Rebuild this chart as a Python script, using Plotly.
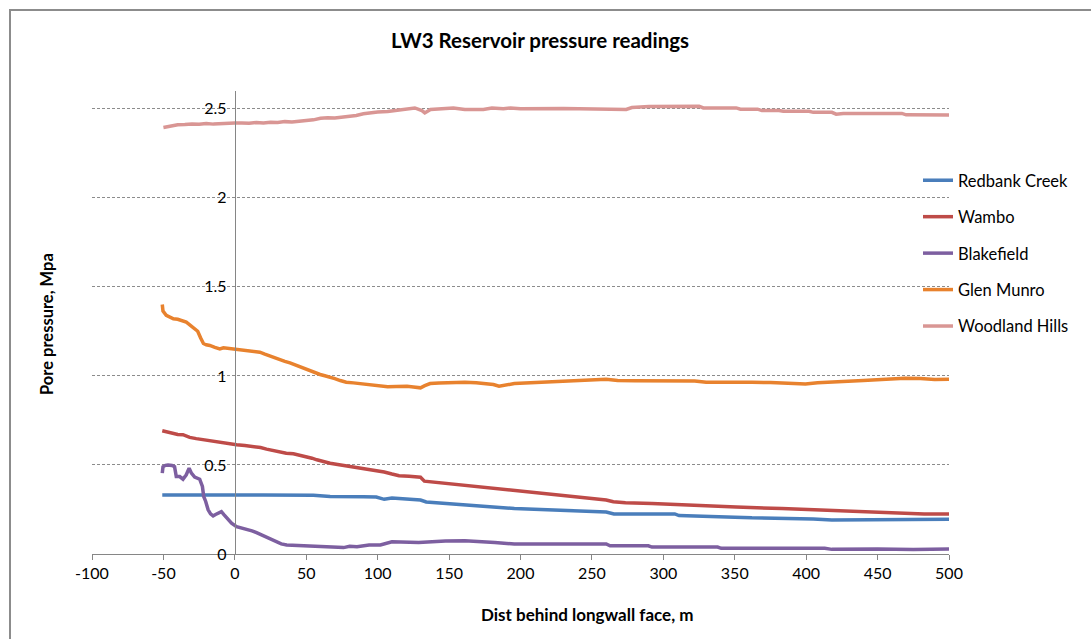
import plotly.graph_objects as go

# ---------------- data ----------------
series_names = ["Redbank Creek", "Wambo", "Blakefield", "Glen Munro", "Woodland Hills"]

rb_x = [-50.8, -40, -30, -20, -10, 0, 10, 20, 30, 40, 55, 66.7, 80, 90, 99, 104.6, 110, 120, 130, 134, 145, 158, 170,
        182, 195.7, 260, 265.4, 280, 295, 308, 311, 325, 338, 350, 362, 380, 399.5, 405, 418, 440, 460, 480, 500]
rb_y = [0.332, 0.331, 0.332, 0.331, 0.332, 0.331, 0.331, 0.332, 0.331, 0.331, 0.33, 0.323, 0.325, 0.322, 0.32, 0.307,
        0.314, 0.308, 0.303, 0.292, 0.285, 0.277, 0.271, 0.266, 0.255, 0.236, 0.225, 0.225, 0.225, 0.225, 0.216, 0.214,
        0.212, 0.207, 0.203, 0.202, 0.201, 0.197, 0.191, 0.192, 0.193, 0.194, 0.195]

wa_x = [-50.8, -47, -43.3, -40, -36.3, -31.6, -27, -22, -18, -15.2, -12, -8.2, -4, 1.2, 7, 12.9, 18, 22.2, 27, 31.6,
        36, 41, 46, 50.4, 54, 57.4, 62, 66.7, 72, 78.5, 85, 92.5, 98, 104.6, 110, 115, 122, 130, 132.7, 140, 147.5,
        154, 161, 168, 174, 183, 193, 260, 265, 273.5, 292, 308, 332, 351, 383, 418, 450, 482.6, 500]
wa_y = [0.692, 0.684, 0.674, 0.671, 0.67, 0.655, 0.648, 0.642, 0.636, 0.632, 0.627, 0.623, 0.617, 0.613, 0.609, 0.604,
        0.598, 0.589, 0.58, 0.57, 0.566, 0.563, 0.555, 0.548, 0.538, 0.529, 0.519, 0.51, 0.503, 0.495, 0.487, 0.477,
        0.47, 0.46, 0.449, 0.44, 0.436, 0.431, 0.409, 0.403, 0.396, 0.391, 0.385, 0.379, 0.374, 0.366, 0.357, 0.303,
        0.293, 0.288, 0.283, 0.277, 0.27, 0.264, 0.255, 0.243, 0.232, 0.225, 0.224]

bf_x = [-50.8, -50.3, -48.5, -46.8, -44, -42.2, -41, -38.6, -36.3, -34, -32, -30.4, -28.1, -24.6, -22.7, -21.8, -20.4,
        -18.7, -17, -15.2, -13.5, -11.7, -9.4, -7.5, -5.9, -2.3, 1.2, 4.5, 8.2, 12, 15.2, 18.5, 22.2, 26, 29.3, 32.5,
        36.3, 43, 50.4, 57, 64.4, 70, 76.1, 80.4, 85.5, 94, 101.9, 110, 128.7, 147.5, 161, 182, 195.7, 260, 262.7,
        289.5, 292, 338, 340.5, 413, 418, 450, 475, 500]
bf_y = [0.454, 0.49, 0.498, 0.5, 0.497, 0.49, 0.435, 0.435, 0.42, 0.445, 0.482, 0.454, 0.432, 0.42, 0.379, 0.323,
        0.295, 0.248, 0.225, 0.214, 0.222, 0.229, 0.238, 0.22, 0.206, 0.173, 0.154, 0.148, 0.139, 0.13, 0.12, 0.108,
        0.092, 0.078, 0.064, 0.057, 0.051, 0.048, 0.047, 0.044, 0.041, 0.038, 0.036, 0.043, 0.041, 0.05, 0.051,
        0.069, 0.065, 0.073, 0.074, 0.065, 0.056, 0.056, 0.046, 0.046, 0.039, 0.039, 0.032, 0.032, 0.026, 0.028,
        0.025, 0.028]

gm_x = [-50.8, -50.3, -48, -45, -43, -40, -38, -36, -34, -32, -29, -26, -24, -22, -20, -17.5, -14, -10.5, -8, -6, -3,
        0, 3, 7, 10.5, 14, 17.5, 21, 24.6, 28, 31.6, 35, 38.6, 42, 45.7, 49, 52.7, 56, 59.7, 63, 66.7, 70, 73.8, 78,
        83, 88, 92.5, 97, 102, 107, 113, 120.6, 125, 130, 133, 136.7, 143, 150, 155, 161, 169, 177, 181, 185, 190,
        195.7, 260, 268, 280, 295, 310, 322, 330, 340, 348.5, 362, 375, 388, 399.5, 408, 415.5, 429, 440, 456, 469,
        480, 490, 500]
gm_y = [1.401, 1.364, 1.34, 1.33, 1.321, 1.318, 1.313, 1.308, 1.302, 1.29, 1.27, 1.251, 1.214, 1.182, 1.175, 1.171,
        1.16, 1.152, 1.158, 1.156, 1.15, 1.152, 1.148, 1.145, 1.141, 1.138, 1.133, 1.122, 1.111, 1.1, 1.092, 1.082,
        1.073, 1.062, 1.051, 1.042, 1.026, 1.018, 1.008, 1.001, 0.994, 0.985, 0.974, 0.965, 0.961, 0.957, 0.951,
        0.948, 0.942, 0.939, 0.94, 0.942, 0.938, 0.933, 0.945, 0.957, 0.96, 0.963, 0.962, 0.965, 0.962, 0.957, 0.952,
        0.942, 0.95, 0.957, 0.981, 0.975, 0.973, 0.972, 0.974, 0.972, 0.965, 0.966, 0.963, 0.964, 0.963, 0.958,
        0.955, 0.962, 0.966, 0.972, 0.975, 0.981, 0.987, 0.985, 0.98, 0.981]

wh_x = [-50, -45, -40, -35, -30, -25, -20, -15, -10, -5, 0, 5, 10, 15, 20, 25, 30, 35, 40, 45, 50, 55, 60, 65, 70, 75,
        80, 85, 90, 95, 100, 107, 116, 126, 131, 133, 137, 145, 153, 161, 174, 180, 188, 193, 200, 230, 260, 264, 274,
        278, 290, 325, 328, 351, 354, 366, 369, 381, 384, 402, 405, 418, 421, 426, 467, 470, 500]
wh_y = [2.395, 2.405, 2.41, 2.412, 2.415, 2.413, 2.418, 2.414, 2.417, 2.416, 2.42, 2.421, 2.419, 2.423, 2.421, 2.425,
        2.423, 2.428, 2.426, 2.43, 2.433, 2.438, 2.447, 2.45, 2.448, 2.452, 2.456, 2.463, 2.472, 2.478, 2.482, 2.485,
        2.496, 2.505, 2.49, 2.477, 2.496, 2.5, 2.505, 2.496, 2.496, 2.505, 2.5, 2.505, 2.5, 2.502, 2.5, 2.496, 2.496,
        2.507, 2.513, 2.515, 2.505, 2.505, 2.498, 2.498, 2.49, 2.49, 2.486, 2.486, 2.48, 2.48, 2.47, 2.474, 2.474,
        2.466, 2.465]

x_ticks = [-100, -50, 0, 50, 100, 150, 200, 250, 300, 350, 400, 450, 500]
x_tick_labels = ["-100", "-50", "0", "50", "100", "150", "200", "250", "300", "350", "400", "450", "500"]
y_ticks = [0, 0.5, 1, 1.5, 2, 2.5]
y_tick_labels = ["0", "0.5", "1", "1.5", "2", "2.5"]

colors = ["#4A7EBB", "#BE4B48", "#7D5FA0", "#E8822E", "#D99694"]
xs = [rb_x, wa_x, bf_x, gm_x, wh_x]
ys = [rb_y, wa_y, bf_y, gm_y, wh_y]

FONT = "Lato, 'Liberation Sans', sans-serif"

fig = go.Figure()
for i, (name, x, y, c) in enumerate(zip(series_names, xs, ys, colors)):
    fig.add_trace(go.Scatter(x=x, y=y, mode="lines", name=name, legendgroup=name,
                             line=dict(color=c, width=3.5)))

W, H = 1091, 639
L, R, T, B = 92, 142, 91, 85
pw, ph = W - L - R, H - T - B

def px_x(p):
    return (p - L) / pw

def px_y(p):
    return (H - B - p) / ph

fig.update_layout(
    width=W, height=H,
    margin=dict(l=L, r=R, t=T, b=B),
    paper_bgcolor="white", plot_bgcolor="white",
    font=dict(family=FONT, size=14, color="black"),
    title=dict(text="<b>LW3 Reservoir pressure readings</b>", xref="container", x=540 / W,
               yref="container", y=1 - 41 / H, xanchor="center", yanchor="middle",
               font=dict(family=FONT, size=20.5, color="black")),
    showlegend=True,
    legend=dict(x=px_x(918), y=px_y(163), xanchor="left", yanchor="top",
                font=dict(family=FONT, size=16.5, color="black"),
                tracegroupgap=12, itemwidth=30, bgcolor="rgba(0,0,0,0)"),
    xaxis=dict(range=[-100, 500], tickvals=x_ticks, ticktext=x_tick_labels, showgrid=False, zeroline=False,
               showline=True, linecolor="#868686", linewidth=1.3,
               ticks="outside", ticklen=5, tickcolor="#868686",
               tickfont=dict(family=FONT, size=16, color="black")),
    yaxis=dict(range=[0, 2.6], tickvals=y_ticks, ticktext=y_tick_labels,
               anchor="free", position=1 / 6,
               showgrid=True, gridcolor="#8c8c8c", griddash="3px,2px", gridwidth=1,
               zeroline=False, showline=True, linecolor="#868686", linewidth=1.3,
               ticks="", ticklabelstandoff=5,
               tickfont=dict(family=FONT, size=16, color="black")),
    shapes=[dict(type="rect", xref="paper", yref="paper",
                 x0=px_x(10), x1=px_x(1100), y0=px_y(660), y1=px_y(10),
                 line=dict(color="#8c8c8c", width=2), fillcolor="rgba(0,0,0,0)", layer="below")],
    annotations=[
        dict(text="<b>Pore pressure, Mpa</b>", xref="paper", yref="paper", x=px_x(47), y=px_y(324),
             textangle=-90, showarrow=False, xanchor="center", yanchor="middle",
             font=dict(family=FONT, size=16.5, color="black")),
        dict(text="<b>Dist behind longwall face, m</b>", xref="paper", yref="paper", x=px_x(587), y=px_y(614),
             showarrow=False, xanchor="center", yanchor="middle",
             font=dict(family=FONT, size=17, color="black")),
    ],
)

fig.write_html("out.html")
